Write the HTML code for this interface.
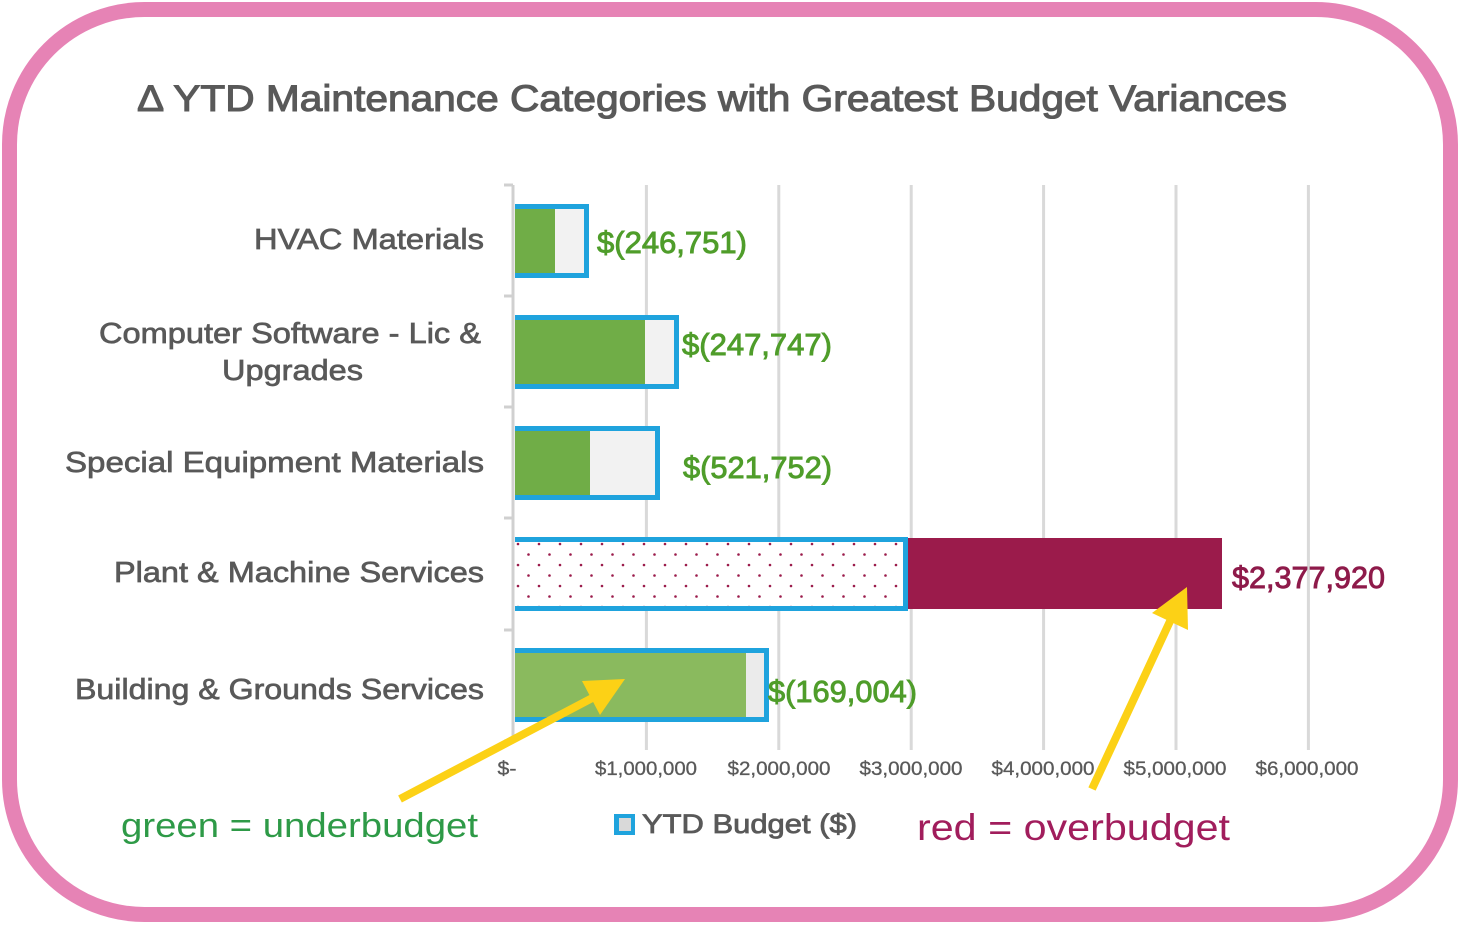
<!DOCTYPE html>
<html>
<head>
<meta charset="utf-8">
<style>
  html, body { margin:0; padding:0; background:#ffffff; }
  body { width:1461px; height:925px; overflow:hidden; }
  svg { display:block; }
  text { font-family: "Liberation Sans", "DejaVu Sans", sans-serif; }
</style>
</head>
<body>
<svg width="1461" height="925" viewBox="0 0 1461 925" xmlns="http://www.w3.org/2000/svg">
  <defs>
    <pattern id="dots" x="515" y="541" width="21" height="21" patternUnits="userSpaceOnUse">
      <rect width="21" height="21" fill="#ffffff"/>
      <circle cx="3" cy="3" r="1.3" fill="#9b1b4b"/>
      <circle cx="13.5" cy="13.5" r="1.3" fill="#9b1b4b"/>
    </pattern>
  </defs>

  <!-- pink rounded frame -->
  <rect x="9.5" y="9.5" width="1441" height="905" rx="135" ry="135" fill="#ffffff" stroke="#e683b5" stroke-width="15"/>

  <!-- title -->
  <text x="137" y="111" font-size="37" fill="#595959" textLength="1150" lengthAdjust="spacingAndGlyphs" stroke="#595959" stroke-width="1.1">Δ YTD Maintenance Categories with Greatest Budget Variances</text>

  <!-- gridlines -->
  <g stroke="#d9d9d9" stroke-width="3">
    <line x1="646.4" y1="185" x2="646.4" y2="750"/>
    <line x1="778.8" y1="185" x2="778.8" y2="750"/>
    <line x1="911.2" y1="185" x2="911.2" y2="750"/>
    <line x1="1043.6" y1="185" x2="1043.6" y2="750"/>
    <line x1="1176" y1="185" x2="1176" y2="750"/>
    <line x1="1308.4" y1="185" x2="1308.4" y2="750"/>
  </g>
  <!-- category axis -->
  <g stroke="#d0d0d0" stroke-width="3">
    <line x1="513" y1="185" x2="513" y2="742"/>
    <line x1="504" y1="185" x2="513" y2="185"/>
    <line x1="504" y1="296" x2="513" y2="296"/>
    <line x1="504" y1="407" x2="513" y2="407"/>
    <line x1="504" y1="518" x2="513" y2="518"/>
    <line x1="504" y1="630" x2="513" y2="630"/>
    <line x1="504" y1="741" x2="513" y2="741"/>
  </g>

  <!-- HVAC -->
  <rect x="515" y="204" width="74" height="74" fill="#1fa3dd"/>
  <rect x="515" y="209" width="69" height="64" fill="#f2f2f2"/>
  <rect x="515" y="209" width="40" height="64" fill="#70ad47"/>

  <!-- Computer Software -->
  <rect x="515" y="315" width="164" height="74" fill="#1fa3dd"/>
  <rect x="515" y="320" width="159" height="64" fill="#f2f2f2"/>
  <rect x="515" y="320" width="130" height="64" fill="#70ad47"/>

  <!-- Special Equipment -->
  <rect x="515" y="426" width="145" height="74" fill="#1fa3dd"/>
  <rect x="515" y="431" width="140" height="64" fill="#f2f2f2"/>
  <rect x="515" y="431" width="75" height="64" fill="#70ad47"/>

  <!-- Plant & Machine -->
  <rect x="515" y="537" width="393" height="74" fill="#1fa3dd"/>
  <rect x="515" y="542" width="388" height="64" fill="url(#dots)"/>
  <rect x="908" y="538" width="314" height="71" fill="#9b1b4b"/>

  <!-- Building & Grounds -->
  <rect x="515" y="648" width="254" height="74" fill="#1fa3dd"/>
  <rect x="515" y="653" width="249" height="64" fill="#ebebeb"/>
  <rect x="515" y="653" width="231" height="64" fill="#8aba5e"/>

  <!-- category labels -->
  <g font-size="29" fill="#595959" text-anchor="end" stroke="#595959" stroke-width="0.7">
    <text x="484" y="249" textLength="230" lengthAdjust="spacingAndGlyphs">HVAC Materials</text>
    <text x="481" y="343" textLength="382" lengthAdjust="spacingAndGlyphs">Computer Software - Lic &amp;</text>
    <text x="363" y="380" textLength="141" lengthAdjust="spacingAndGlyphs">Upgrades</text>
    <text x="484" y="472" textLength="419" lengthAdjust="spacingAndGlyphs">Special Equipment Materials</text>
    <text x="484" y="582" textLength="370" lengthAdjust="spacingAndGlyphs">Plant &amp; Machine Services</text>
    <text x="484" y="699" textLength="409" lengthAdjust="spacingAndGlyphs">Building &amp; Grounds Services</text>
  </g>

  <!-- value labels -->
  <g font-size="31" fill="#4f9d2a" stroke="#4f9d2a" stroke-width="0.9">
    <text x="597" y="253" textLength="150" lengthAdjust="spacingAndGlyphs">$(246,751)</text>
    <text x="682" y="355" textLength="150" lengthAdjust="spacingAndGlyphs">$(247,747)</text>
    <text x="683" y="478" textLength="149" lengthAdjust="spacingAndGlyphs">$(521,752)</text>
    <text x="768" y="702" textLength="149" lengthAdjust="spacingAndGlyphs">$(169,004)</text>
  </g>
  <text x="1232" y="588" font-size="31" fill="#8e1a4a" stroke="#8e1a4a" stroke-width="0.9" textLength="153" lengthAdjust="spacingAndGlyphs">$2,377,920</text>

  <!-- x-axis labels -->
  <g font-size="19" fill="#595959" text-anchor="middle" stroke="#595959" stroke-width="0.3">
    <text x="507" y="775" textLength="19" lengthAdjust="spacingAndGlyphs">$-</text>
    <text x="646" y="775" textLength="102" lengthAdjust="spacingAndGlyphs">$1,000,000</text>
    <text x="779" y="775" textLength="103" lengthAdjust="spacingAndGlyphs">$2,000,000</text>
    <text x="911" y="775" textLength="103" lengthAdjust="spacingAndGlyphs">$3,000,000</text>
    <text x="1043" y="775" textLength="103" lengthAdjust="spacingAndGlyphs">$4,000,000</text>
    <text x="1175" y="775" textLength="103" lengthAdjust="spacingAndGlyphs">$5,000,000</text>
    <text x="1307" y="775" textLength="103" lengthAdjust="spacingAndGlyphs">$6,000,000</text>
  </g>

  <!-- legend -->
  <rect x="614" y="814" width="21" height="21" fill="#1fa3dd"/>
  <rect x="619" y="818" width="12" height="13" fill="#d9d9d9"/>
  <text x="642" y="833" font-size="27" fill="#595959" stroke="#595959" stroke-width="0.8" textLength="215" lengthAdjust="spacingAndGlyphs">YTD Budget ($)</text>

  <!-- annotations -->
  <text x="121" y="837" font-size="34" fill="#2e9a47" textLength="357" lengthAdjust="spacingAndGlyphs">green = underbudget</text>
  <text x="917" y="840" font-size="37" fill="#a11d5c" textLength="313" lengthAdjust="spacingAndGlyphs">red = overbudget</text>

  <!-- yellow arrows -->
  <g fill="#fcd116" stroke="none">
    <line x1="400" y1="799" x2="598" y2="695" stroke="#fcd116" stroke-width="8"/>
    <polygon points="625,679 582,681 600,715"/>
    <line x1="1092" y1="789" x2="1172" y2="617" stroke="#fcd116" stroke-width="8"/>
    <polygon points="1187,587 1152,613 1188,630"/>
  </g>
</svg>
</body>
</html>
